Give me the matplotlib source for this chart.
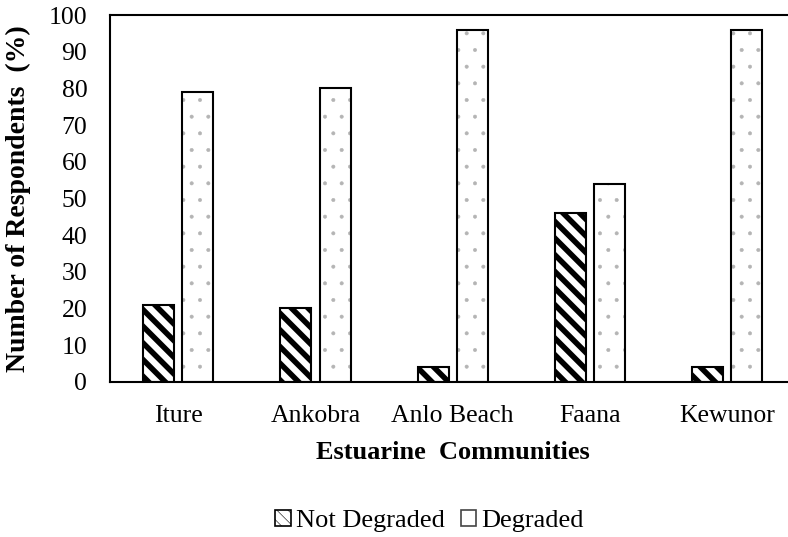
import numpy as np
import matplotlib
matplotlib.use("Agg")
import matplotlib.pyplot as plt
from matplotlib.patches import Patch

communities = ["Iture", "Ankobra", "Anlo Beach", "Faana", "Kewunor"]
not_degraded = [21, 20, 4, 46, 4]
degraded = [79, 80, 96, 54, 96]

plt.rcParams['font.family'] = ['Liberation Serif', 'DejaVu Serif']

fig = plt.figure(figsize=(7.88, 5.37), dpi=100)
ax = fig.add_axes([0.139, 0.289, 0.871, 0.683])

x = np.arange(len(communities))
w = 0.226
off = 0.143

# not degraded: thick black diagonal stripes
plt.rcParams['hatch.linewidth'] = 4.0
ax.bar(x - off, not_degraded, w, color='white', edgecolor='black',
       hatch='\\\\', linewidth=0, zorder=2)
ax.bar(x - off, not_degraded, w, fill=False, edgecolor='black',
       linewidth=1.5, zorder=3)
h1 = Patch(facecolor='white', edgecolor='black', hatch='\\\\\\', linewidth=1.2)

# degraded: small grey dots
plt.rcParams['hatch.linewidth'] = 0.4
ax.bar(x + off, degraded, w, color='white', edgecolor='#b4b4b4',
       hatch='.', linewidth=0, zorder=2)
ax.bar(x + off, degraded, w, fill=False, edgecolor='black',
       linewidth=1.5, zorder=3)
h2 = Patch(facecolor='white', edgecolor='#444444', linewidth=1.2)

ax.set_xlim(-0.5, len(communities) - 0.5)
ax.set_ylim(0, 100)
ax.set_yticks(range(0, 101, 10))
ax.set_xticks(x)
ax.set_xticklabels(communities)
ax.tick_params(length=0, labelsize=18.5)
ax.tick_params(axis='y', pad=16)
ax.tick_params(axis='x', pad=17)

for s in ['left', 'top', 'bottom']:
    ax.spines[s].set_linewidth(1.5)
ax.spines['right'].set_visible(False)

ax.set_xlabel("Estuarine  Communities", fontsize=19, fontweight='bold', labelpad=10)
ax.set_ylabel("Number of Respondents  (%)", fontsize=20, fontweight='bold', labelpad=13)

fig.legend([h1, h2], ["Not Degraded", "Degraded"], loc='center', bbox_to_anchor=(0.545, 0.03),
           ncol=2, frameon=False, fontsize=19, handlelength=0.6, handleheight=0.6,
           handletextpad=0.2, columnspacing=0.6)

fig.savefig("out.png", dpi=100)
